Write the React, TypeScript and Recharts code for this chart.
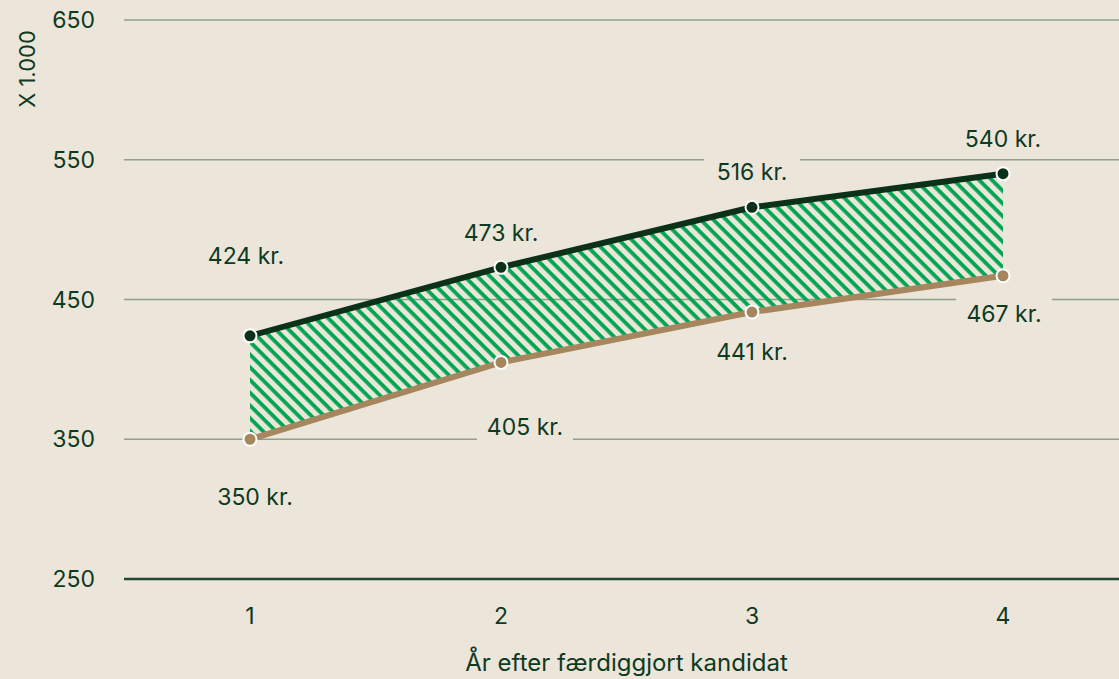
import { Area, CartesianGrid, ComposedChart, LabelList, Line, XAxis, YAxis } from "recharts"

const years = ["1", "2", "3", "4"]
const highValues = [424, 473, 516, 540]
const lowValues = [350, 405, 441, 467]
const yTicks = [250, 350, 450, 550, 650]

// label nudges (px), so the texts sit where the original put them
const highLabelShift = [
  { dx: -4, dy: -80 },
  { dx: 0, dy: -34 },
  { dx: 0, dy: -35 },
  { dx: 0, dy: -35 },
]
const lowLabelShift = [
  { dx: 5, dy: 58 },
  { dx: 24, dy: 65 },
  { dx: 0, dy: 40 },
  { dx: 1, dy: 38 },
]

const data = years.map((year, i) => ({
  year,
  high: highValues[i],
  low: lowValues[i],
  range: [lowValues[i], highValues[i]],
}))

const BG = "#ece5da"
const INK = "#0e3a22"
const DARK = "#0b3119"
const BROWN = "#a5865f"
const HATCH = "#00a651"

function makeLabel(shifts: { dx: number; dy: number }[]) {
  return (props: any) => {
    const { x, y, value, index } = props
    const s = shifts[index] || { dx: 0, dy: 0 }
    const cx = x + s.dx
    const cy = y + s.dy
    return (
      <g>
        <rect x={cx - 48} y={cy - 16} width={96} height={32} fill={BG} />
        <text x={cx} y={cy} textAnchor="middle" dominantBaseline="central" fill={INK} fontSize={23}>
          {`${value} kr.`}
        </text>
      </g>
    )
  }
}

export default function App() {
  return (
    <div
      style={{
        position: "fixed",
        inset: 0,
        width: 1119,
        height: 679,
        overflow: "hidden",
        background: BG,
        fontFamily: "Inter, 'Noto Sans', sans-serif",
      }}
    >
      <ComposedChart width={1129} height={679} data={data} margin={{ top: 20, right: 0, bottom: 0, left: 0 }}>
        <defs>
          <pattern id="hatch" patternUnits="userSpaceOnUse" width={9} height={9} patternTransform="rotate(45)">
            <rect x={0} y={0} width={9} height={3.8} fill={HATCH} />
          </pattern>
        </defs>
        <CartesianGrid vertical={false} stroke="#8fa08b" strokeWidth={1.5} />
        <XAxis
          dataKey="year"
          height={100}
          padding={{ left: 126, right: 126 }}
          tickLine={false}
          tickSize={0}
          tickMargin={29}
          axisLine={{ stroke: "#1f4a32", strokeWidth: 2.5 }}
          tick={{ fill: INK, fontSize: 23 }}
          label={{
            content: (p: any) => {
              const vb = p.viewBox
              return (
                <text
                  x={vb.x + vb.width / 2}
                  y={vb.y + 83}
                  textAnchor="middle"
                  dominantBaseline="central"
                  fill={INK}
                  fontSize={24}
                >
                  År efter færdiggjort kandidat
                </text>
              )
            },
          }}
        />
        <YAxis
          width={124}
          domain={[250, 650]}
          ticks={yTicks}
          axisLine={false}
          tickLine={false}
          tickSize={0}
          tickMargin={29}
          tick={{ fill: INK, fontSize: 23 }}
          label={{
            content: (p: any) => {
              const vb = p.viewBox
              const x = vb.x + 27
              const y = vb.y + 49
              return (
                <text
                  x={x}
                  y={y}
                  transform={`rotate(-90, ${x}, ${y})`}
                  textAnchor="middle"
                  dominantBaseline="central"
                  fill={INK}
                  fontSize={22}
                >
                  X 1.000
                </text>
              )
            },
          }}
        />
        <Area
          dataKey="range"
          type="linear"
          stroke="none"
          fill="url(#hatch)"
          fillOpacity={1}
          isAnimationActive={false}
          activeDot={false}
        />
        <Line
          dataKey="low"
          type="linear"
          stroke={BROWN}
          strokeWidth={6}
          dot={{ r: 6.5, fill: BROWN, stroke: "#ffffff", strokeWidth: 2 }}
          isAnimationActive={false}
        >
          <LabelList dataKey="low" content={makeLabel(lowLabelShift)} />
        </Line>
        <Line
          dataKey="high"
          type="linear"
          stroke={DARK}
          strokeWidth={6}
          dot={{ r: 6.5, fill: DARK, stroke: "#ffffff", strokeWidth: 2 }}
          isAnimationActive={false}
        >
          <LabelList dataKey="high" content={makeLabel(highLabelShift)} />
        </Line>
      </ComposedChart>
    </div>
  )
}
